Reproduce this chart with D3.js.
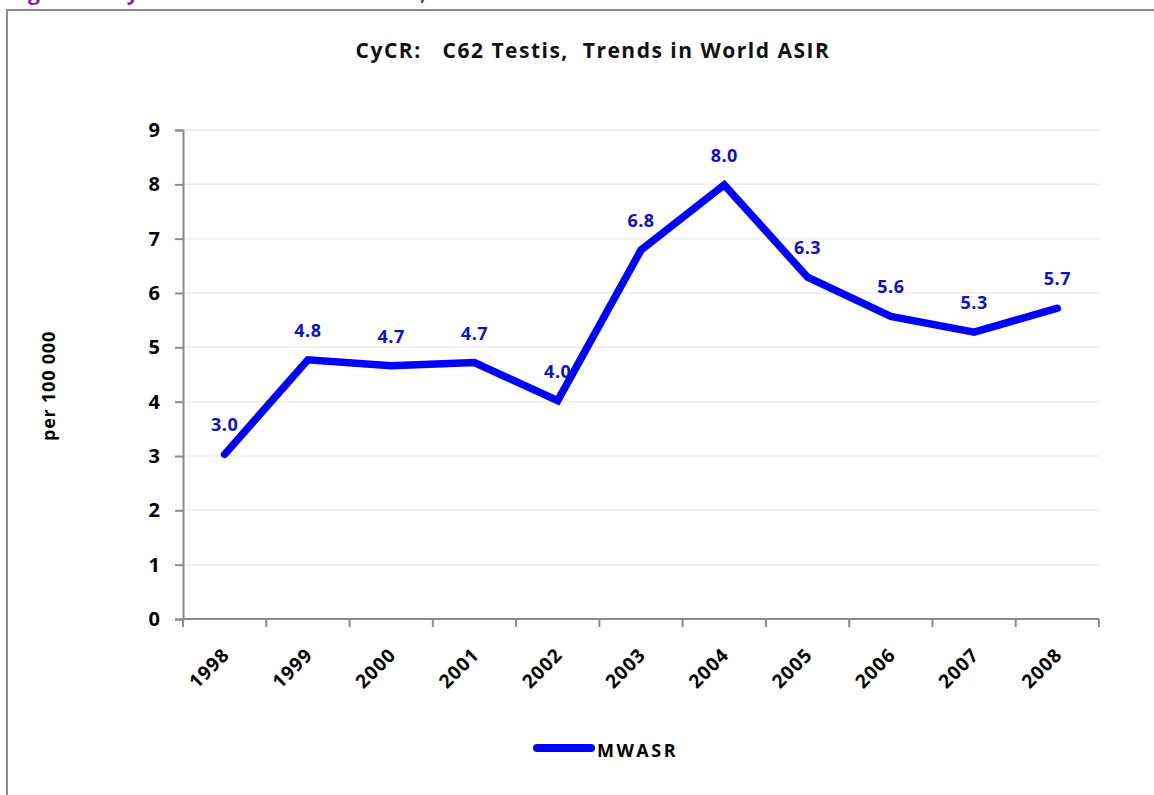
<!DOCTYPE html>
<html>
<head>
<meta charset="utf-8">
<script src="https://cdn.jsdelivr.net/npm/d3@7"></script>
<style>
  html, body { margin: 0; padding: 0; background: #fff; overflow: hidden; }
  svg { display: block; font-family: "Open Sans", "Noto Sans", sans-serif; }
</style>
</head>
<body>
<svg id="chart" width="1154" height="795"></svg>
<script>
// chart data
const years = ["1998", "1999", "2000", "2001", "2002", "2003", "2004", "2005", "2006", "2007", "2008"];
const mwasr = [3.03, 4.77, 4.66, 4.72, 4.02, 6.79, 7.99, 6.29, 5.57, 5.28, 5.72];
const yTicks = [0, 1, 2, 3, 4, 5, 6, 7, 8, 9];
const seriesName = "MWASR";
const chartTitle = "CyCR:   C62 Testis,  Trends in World ASIR";
const yLabel = "per 100 000";

let svg = d3.select("#chart");

// purple caption of the page, mostly cut off above the frame
svg.append("text")
    .attr("x", 8)
    .attr("y", 0)
    .attr("fill", "#7030a0")
    .attr("font-size", 21)
    .attr("font-weight", "bold")
    .attr("letter-spacing", 1)
    .text("Figure 3.  CyCR:  Trends in World ASIR, C62 Testis");

// outer chart frame
svg.append("rect")
    .attr("x", 7)
    .attr("y", 10)
    .attr("width", 1160)
    .attr("height", 800)
    .attr("fill", "#fff")
    .attr("stroke", "#8c8c8c")
    .attr("stroke-width", 2);

let margin = { left: 183, right: 55, top: 130, bottom: 176 };
let width = 1154 - margin.left - margin.right,
    height = 795 - margin.top - margin.bottom;

let x = d3.scaleBand().domain(years).range([0, width]);
let y = d3.scaleLinear().domain([0, 9]).range([height, 0]);

let g = svg.append("g").attr("transform", `translate(${margin.left},${margin.top})`);

// title
svg.append("text")
    .attr("x", 593)
    .attr("y", 58)
    .attr("text-anchor", "middle")
    .attr("font-size", 21)
    .attr("font-weight", "bold")
    .attr("letter-spacing", 1.5)
    .attr("fill", "#111")
    .style("white-space", "pre")
    .text(chartTitle);

// gridlines
g.append("g")
    .selectAll("line")
    .data(yTicks.filter(t => t > 0))
    .join("line")
    .attr("x1", 0)
    .attr("x2", width)
    .attr("y1", d => y(d))
    .attr("y2", d => y(d))
    .attr("stroke", "#ececec")
    .attr("stroke-width", 1.5);

// y axis
let yAxis = g.append("g")
    .call(d3.axisLeft(y).tickValues(yTicks).tickSize(8).tickPadding(15));
yAxis.select(".domain").attr("stroke", "#8c8c8c").attr("stroke-width", 2);
yAxis.selectAll(".tick line").attr("stroke", "#8c8c8c").attr("stroke-width", 2);
yAxis.selectAll(".tick text")
    .attr("font-size", 20)
    .attr("font-weight", "bold")
    .attr("fill", "#000")
    .attr("font-family", "Open Sans, sans-serif");

// x axis, ticks on band edges
let xAxisG = g.append("g").attr("transform", `translate(0,${height})`);
xAxisG.append("line")
    .attr("x1", 0).attr("x2", width)
    .attr("stroke", "#8c8c8c").attr("stroke-width", 2);
xAxisG.selectAll(".edge")
    .data(years.concat(["end"]))
    .join("line")
    .attr("class", "edge")
    .attr("x1", (d, i) => i * x.bandwidth())
    .attr("x2", (d, i) => i * x.bandwidth())
    .attr("y1", 0)
    .attr("y2", 8)
    .attr("stroke", "#8c8c8c")
    .attr("stroke-width", 2);
xAxisG.selectAll(".ylab")
    .data(years)
    .join("text")
    .attr("class", "ylab")
    .attr("transform", d => `translate(${x(d) + x.bandwidth() / 2 + 6},${37}) rotate(-45)`)
    .attr("text-anchor", "end")
    .attr("font-size", 19)
    .attr("font-weight", "bold")
    .attr("letter-spacing", 1)
    .attr("fill", "#000")
    .text(d => d);

// y axis title
svg.append("text")
    .attr("transform", "translate(55,386) rotate(-90)")
    .attr("text-anchor", "middle")
    .attr("font-size", 18)
    .attr("font-weight", "bold")
    .attr("letter-spacing", 0.8)
    .attr("fill", "#000")
    .text(yLabel);

// the line
let pts = years.map((yr, i) => ({ year: yr, value: mwasr[i] }));
let line = d3.line()
    .x(d => x(d.year) + x.bandwidth() / 2)
    .y(d => y(d.value));

g.append("path")
    .datum(pts)
    .attr("d", line)
    .attr("fill", "none")
    .attr("stroke", "#0000ff")
    .attr("stroke-width", 7.5)
    .attr("stroke-linecap", "round")
    .attr("stroke-linejoin", "miter");

// value labels
g.selectAll(".vlab")
    .data(pts)
    .join("text")
    .attr("class", "vlab")
    .attr("x", d => x(d.year) + x.bandwidth() / 2)
    .attr("y", d => y(d.value) - 23)
    .attr("text-anchor", "middle")
    .attr("font-size", 18)
    .attr("font-weight", "bold")
    .attr("letter-spacing", 0.5)
    .attr("fill", "#1010c8")
    .text(d => d3.format(".1f")(d.value));

// legend
let lg = svg.append("g").attr("transform", "translate(537,748)");
lg.append("line")
    .attr("x1", 0).attr("x2", 54)
    .attr("stroke", "#0000ff")
    .attr("stroke-width", 8)
    .attr("stroke-linecap", "round");
lg.append("text")
    .attr("x", 60)
    .attr("y", 9)
    .attr("font-size", 18)
    .attr("font-weight", "bold")
    .attr("letter-spacing", 2.5)
    .attr("fill", "#000")
    .text(seriesName);
</script>
</body>
</html>
